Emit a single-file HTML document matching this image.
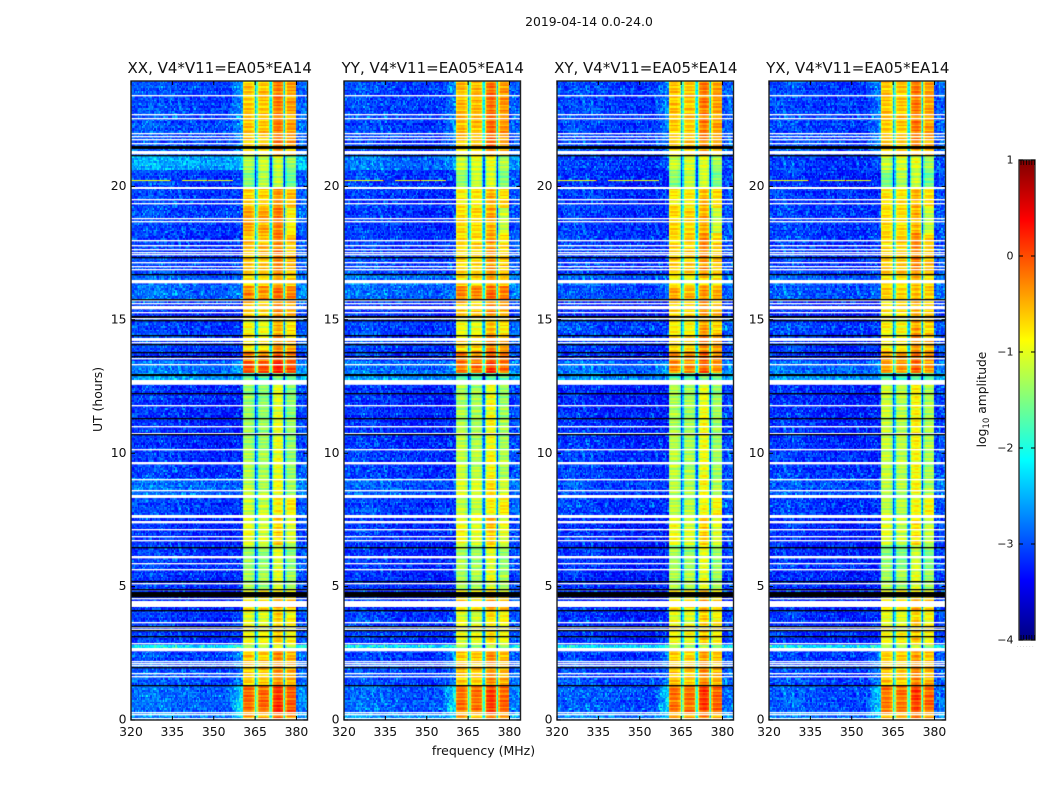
<!DOCTYPE html>
<html lang="en">
<head>
<meta charset="utf-8">
<title>2019-04-14 0.0-24.0</title>
<style>
html,body{margin:0;padding:0;background:#fff;width:1050px;height:800px;overflow:hidden}
#stage{position:relative;width:1050px;height:800px}
canvas{position:absolute;display:block}
svg{position:absolute;left:0;top:0}
text{font-family:"DejaVu Sans","Liberation Sans",sans-serif;fill:#111}
</style>
</head>
<body>
<div id="stage">
<svg id="axes" width="1050" height="800"></svg>
</div>
<script>
/* ---------- chart data ---------- */
const panelNames = ["XX", "YY", "XY", "YX"];
const panelSuffix = ", V4*V11=EA05*EA14";
const xTicks = [320, 335, 350, 365, 380];
const yTicks = [0, 5, 10, 15, 20];
const colorTicks = [1, 0, -1, -2, -3, -4];
const colorTickLabels = ["1", "0", "\u22121", "\u22122", "\u22123", "\u22124"];
const figureTitle = "2019-04-14 0.0-24.0";
const xAxisTitle = "frequency (MHz)";
const yAxisTitle = "UT (hours)";

/* time segments: upper edge in hours */
const segTop = [24,21.55,21.2,20.65,20.0,19.2,18.3,17.46,16.74,16.3,15.77,15.17,14.45,13.82,13.45,13.0,12.77,11.3,10.15,9.1,8.4,7.65,6.55,5.63,4.9,4.6,4.13,3.67,2.84,2.63,2.07,1.3,0.3];
/* log10 amplitude inside the 360-380 MHz band per polarisation */
const bandXX = [-0.55,-0.75,-1.25,-1.3,-0.65,-0.5,-0.55,-0.6,-0.75,-0.35,-0.6,-0.9,-0.75,-0.3,-0.05,-1.7,-1.37,-1.32,-1.32,-1.27,-1.12,-1.02,-1.37,-1.32,-0.9,-0.75,-1.0,-0.9,-1.3,-0.6,-0.6,-0.15,-0.45];
const bandYY = [-0.5,-0.7,-1.15,-1.2,-0.8,-0.75,-0.7,-0.7,-0.7,-0.3,-0.6,-0.95,-0.65,-0.3,-0.2,-1.7,-1.27,-1.22,-1.22,-1.07,-1.12,-0.97,-1.32,-1.27,-0.9,-0.7,-1.05,-1.0,-1.4,-0.6,-0.6,-0.2,-0.5];
const bandXY = [-0.55,-0.7,-1.2,-1.25,-0.8,-0.75,-0.65,-0.65,-0.85,-0.5,-0.65,-0.85,-0.7,-0.35,-0.35,-1.7,-1.27,-1.27,-1.27,-1.22,-1.17,-1.02,-1.32,-1.27,-0.9,-0.8,-1.0,-0.9,-1.4,-0.65,-0.6,-0.2,-0.5];
const bandYX = [-0.55,-0.7,-1.2,-1.3,-0.75,-0.8,-0.65,-0.6,-0.8,-0.7,-0.75,-0.85,-0.75,-0.4,-0.4,-1.8,-1.17,-1.17,-1.22,-1.22,-1.17,-1.12,-1.42,-1.32,-0.95,-0.8,-1.0,-0.9,-1.4,-0.65,-0.6,-0.2,-0.5];
/* log10 amplitude outside the band */
const bgXX = [-3.1,-3.0,-2.6,-3.15,-3.15,-3.15,-3.2,-3.15,-2.95,-2.95,-3.25,-3.15,-3.15,-3.25,-2.9,-2.7,-3.25,-3.25,-3.2,-2.95,-3.15,-3.25,-3.2,-3.25,-3.3,-3.25,-3.2,-3.2,-2.3,-3.15,-3.05,-2.95,-2.8];
const bgYY = [-3.15,-3.1,-2.9,-3.2,-3.2,-3.2,-3.2,-3.15,-2.9,-2.95,-3.25,-3.15,-3.15,-3.25,-2.95,-2.7,-3.25,-3.25,-3.2,-3.0,-3.15,-3.25,-3.25,-3.25,-3.3,-3.25,-3.2,-3.2,-2.35,-3.15,-3.1,-3.0,-2.8];
const bgXY = [-3.15,-3.1,-3.2,-3.25,-3.2,-3.2,-3.2,-3.2,-3.0,-3.1,-3.3,-3.15,-3.2,-3.25,-2.95,-2.75,-3.3,-3.25,-3.2,-3.1,-3.2,-3.3,-3.25,-3.3,-3.3,-3.3,-3.25,-3.25,-2.35,-3.2,-3.15,-3.05,-2.85];
const bgYX = [-3.15,-3.1,-3.2,-3.25,-3.2,-3.2,-3.2,-3.2,-3.0,-3.05,-3.3,-3.15,-3.2,-3.25,-2.95,-2.75,-3.3,-3.25,-3.2,-3.05,-3.2,-3.3,-3.25,-3.3,-3.3,-3.3,-3.25,-3.25,-2.35,-3.2,-3.15,-3.05,-2.85];
/* rise just below the band edge, per segment */
const shoulder = [.35,.2,.2,0,.05,.05,.05,.05,.1,.15,0,0,0,0,.3,0,0,0,0,0,0,0,0,.05,0,.1,.1,.1,.3,.4,.25,.6,.4];
/* offsets of the four sub-bands, per segment */
const chanOffset = [
[-.1,-.1,.2,.1],[-.05,-.05,.15,.1],[0,.1,.05,-.15],[-.25,0,0,-.3],[-.05,-.05,.15,.05],[0,0,.15,-.4],[-.1,-.05,.2,-.05],[-.05,-.05,.2,.05],
[-.05,-.05,.1,.05],[0,-.05,.05,.05],[-.05,-.05,.15,.1],[-.05,-.1,.3,.15],[-.1,-.1,.25,.2],[-.05,-.05,.1,.05],[-.05,-.05,.15,0],[0,0,.05,0],
[-.05,-.1,.2,-.1],[-.05,-.1,.2,-.1],[0,-.05,.2,-.1],[0,-.05,.2,-.1],[-.1,-.1,.15,.3],[0,-.1,.25,-.05],[-.05,-.1,.2,-.1],[-.05,-.05,.15,-.05],
[-.05,-.05,.2,.05],[-.05,-.05,.2,.1],[-.05,-.1,.2,.1],[-.05,-.05,.15,.05],[0,0,.1,0],[-.05,-.05,.15,.05],[-.05,-.05,.15,.05],[-.05,-.05,.15,.05],[-.05,-.05,.15,.05]];
/* spectral shape of the band in 0.5 MHz bins from 360.5 MHz */
const bandProfile = [-.15,0,.05,.05,.05,.05,0,-.1,-.5,-1.9,-1.1,-.2,0,.05,.05,.05,.05,0,-.1,-1.1,-1.9,-.8,-.1,.05,.1,.15,.15,.1,0,-1.2,-2.0,-.4,0,0,.02,.02,.02,0,-.05];
/* spectral shape of the background in 4 MHz bins from 320 MHz */
const bgProfile = [.1,.15,.12,.08,.05,.03,.02,0,0,0,0,0,0,0,.02,.22];
/* hand-estimated texture offsets standing in for unreadable per-pixel noise */
const rowStreak = [.12,-.18,.25,-.05,.2,-.22,.05,.28,-.12,.02,-.25,.18,.08,-.15,.26,-.08,.14,-.2,.22,-.02,.1,-.28,.16,.04,-.1,.24,-.16,.06,.18,-.24,.0];
const speckle = [.1,-.22,.35,-.08,.18,-.3,.05,.6,-.15,.22,-.05,-.35,.12,.42,-.18,.02,.28,-.25,-.1,.15,.75,-.28,.08,-.12,.32,-.02,-.38,.2,.04,-.2,.5,-.06,.14,-.32,.26,-.14,.0,.38,-.24,.09,-.42,.17,.55,-.1,.24,-.27,.03,.3,-.16,.07,-.34,.2,-.04];
/* flagged rows drawn white: centre hour, thickness hour */
const whiteRowHours = [23.46,22.75,22.57,22.04,21.91,21.78,21.66,21.32,19.99,19.53,19.38,18.84,18.73,18.02,17.81,17.68,17.57,17.46,17.16,17.01,16.90,16.48,15.75,15.65,15.49,15.31,15.08,14.28,14.19,13.57,13.36,12.68,11.82,11.03,10.77,10.15,9.63,9.03,8.61,8.40,7.65,7.44,7.16,6.90,6.72,6.13,5.87,5.63,5.12,4.91,4.54,4.35,3.67,3.47,3.38,2.87,2.66,2.19,2.10,2.03,1.75,1.63,0.27,0.19,0.06];
const whiteRowWidths = [.05,.05,.05,.05,.05,.05,.05,.125,.075,.05,.05,.05,.05,.05,.05,.05,.05,.05,.05,.05,.05,.125,.05,.05,.125,.05,.05,.11,.05,.05,.05,.18,.05,.05,.05,.05,.09,.05,.05,.11,.11,.09,.05,.05,.05,.09,.05,.05,.05,.05,.05,.225,.05,.05,.05,.05,.125,.05,.05,.05,.05,.05,.05,.05,.05];
/* rows of zero amplitude drawn black */
const blackRowHours = [21.52,21.21,17.38,16.74,15.80,15.15,15.0,14.43,14.11,13.81,13.66,12.96,12.26,11.33,10.70,6.49,5.21,4.88,4.74,4.63,4.12,3.50,3.35,3.12,1.95,1.29];
const blackRowWidths = [.11,.05,.05,.05,.05,.07,.05,.05,.05,.05,.05,.08,.05,.05,.05,.05,.05,.05,.16,.05,.05,.05,.05,.05,.05,.05];
/* interrupted interference row seen near 20.3 h */
const rfiFrom = [320,334,334.5,338.5,347.5,348];
const rfiTo = [334,334.5,338.5,347.5,348,357];
const rfiLevel = [-0.95,0.45,-3.2,-0.95,0.3,-1.0];
const rfiHour = 20.28;

const bandLevels = [bandXX, bandYY, bandXY, bandYX];
const bgLevels = [bgXX, bgYY, bgXY, bgYX];

/* ---------- layout ---------- */
const panelLeft = [131, 344, 557, 769];
const panelWidth = 176.5;
const panelTop = 81;
const panelBottom = 720;
const xMin = 320, xMax = 384, yMin = 0, yMax = 23.95;
const hourCalibration = 23.95 / 24;
const vMin = -4, vMax = 1;
const cbar = {x: 1019, y: 160, w: 16, h: 480};
const SVGNS = "http://www.w3.org/2000/svg";
const root = document.getElementById("axes");
const stage = document.getElementById("stage");

function xScale(f) { return (f - xMin) / (xMax - xMin) * panelWidth; }
function yScale(t) { return panelBottom - (t - yMin) / (yMax - yMin) * (panelBottom - panelTop); }
function vScale(v) { return cbar.y + (vMax - v) / (vMax - vMin) * cbar.h; }
function clamp01(a) { return Math.max(0, Math.min(1, a)); }
function jet(v) {
  const n = clamp01((v - vMin) / (vMax - vMin));
  const r = clamp01(1.5 - Math.abs(4 * n - 3));
  const g = clamp01(1.5 - Math.abs(4 * n - 2));
  const b = clamp01(1.5 - Math.abs(4 * n - 1));
  return "rgb(" + Math.round(r * 255) + "," + Math.round(g * 255) + "," + Math.round(b * 255) + ")";
}
function svgEl(tag, attrs, txt) {
  const e = document.createElementNS(SVGNS, tag);
  for (const k in attrs) e.setAttribute(k, attrs[k]);
  if (txt !== undefined) e.textContent = txt;
  root.appendChild(e);
  return e;
}
function segmentIndex(t) {
  let k = 0;
  for (let s = 0; s < segTop.length; s++) { if (t < segTop[s] * hourCalibration) k = s; }
  return k;
}
function channelOf(f) { return f < 365.25 ? 0 : f < 370.25 ? 1 : f < 375.25 ? 2 : 3; }
function speckleAt(a, b) {
  return speckle[(a * a * 7 + b * b * 11 + a * b * 13 + a * 3 + b * 5) % speckle.length];
}

function cellValue(p, i, j) {
  const f = xMin + i * 0.5;
  const t = yMin + j * 0.0625;
  const k = segmentIndex(t + 0.03);
  const noise = speckleAt(i + p * 61, j + p * 37);
  if (f >= 360.5 && f < 380) {
    const idx = Math.round((f - 360.5) * 2);
    const c = channelOf(f);
    const streak = rowStreak[(j + p * 5 + c * 3) % rowStreak.length];
    return bandLevels[p][k] + chanOffset[k][c] + bandProfile[idx] + streak * 0.85 + noise * 0.08;
  }
  const rowTone = rowStreak[(j + p * 5) % rowStreak.length];
  let v = bgLevels[p][k] + bgProfile[Math.floor((f - xMin) / 4)] + noise * 0.85 + rowTone * 0.3;
  if (f >= 355 && f < 360.5) v += shoulder[k] * (f - 355) / 5.5 * 1.4;
  if (f >= 380 && f < 381) v -= 0.12;
  return v;
}

function drawPanel(p) {
  const cv = document.createElement("canvas");
  cv.width = Math.ceil(panelWidth);
  cv.height = panelBottom - panelTop;
  cv.style.left = panelLeft[p] + "px";
  cv.style.top = panelTop + "px";
  
  
  stage.insertBefore(cv, root);
  const c = cv.getContext("2d");
  const nCols = (xMax - xMin) * 2;
  const nRows = Math.ceil((yMax - yMin) * 16);
  for (let i = 0; i < nCols; i++) {
    const x0 = Math.round(xScale(xMin + i * 0.5));
    const x1 = Math.round(xScale(xMin + (i + 1) * 0.5));
    for (let j = 0; j < nRows; j++) {
      const y0 = Math.round(yScale(yMin + (j + 1) * 0.0625)) - panelTop;
      const y1 = Math.round(yScale(yMin + j * 0.0625)) - panelTop;
      c.fillStyle = jet(cellValue(p, i, j));
      c.fillRect(x0, y0, Math.max(1, x1 - x0), Math.max(1, y1 - y0));
    }
  }
  function band(hour, width, color, f0, f1, minH) {
    const h = Math.max(minH, width * 26.6);
    const a = Math.round(yScale(hour * hourCalibration) - h / 2) - panelTop;
    c.fillStyle = color;
    c.fillRect(Math.round(xScale(f0)), a, Math.round(xScale(f1)) - Math.round(xScale(f0)), h);
  }
  rfiFrom.forEach(function (f, n) { band(rfiHour, 0.04, jet(rfiLevel[n]), f, rfiTo[n], 1); });
  whiteRowHours.forEach(function (h, n) { band(h, whiteRowWidths[n], "#fff", xMin, xMax, 1.35); });
  blackRowHours.forEach(function (h, n) { band(h, blackRowWidths[n], "#000", xMin, xMax, 1.2); });
}

function drawAxes(p) {
  const L = panelLeft[p], lo = panelNames[p].toLowerCase();
  const R = L + panelWidth;
  const frame = svgEl("rect", {x: L, y: panelTop, width: panelWidth, height: panelBottom - panelTop, fill: "none", stroke: "#222", "stroke-width": 1.4});
  
  
  const title = svgEl("text", {x: L + panelWidth / 2 + 0.5, y: 73, "text-anchor": "middle", "font-size": 15}, panelNames[p] + panelSuffix);
  
  
  xTicks.forEach(function (f) {
    const x = L + xScale(f);
    const tb = svgEl("path", {d: "M" + x + " " + panelBottom + "v-4M" + x + " " + panelTop + "v4", stroke: "#000", "stroke-width": 1, fill: "none"});
    
    
    const lab = svgEl("text", {x: x, y: 736, "text-anchor": "middle", "font-size": 12.4}, String(f));
    
    
  });
  yTicks.forEach(function (t) {
    const y = yScale(t);
    const tk = svgEl("path", {d: "M" + L + " " + y + "h4M" + R + " " + y + "h-4", stroke: "#000", "stroke-width": 1, fill: "none"});
    
    
    const lab = svgEl("text", {x: L - 4.5, y: y + 3.6, "text-anchor": "end", "font-size": 12.4}, String(t));
    
    
  });
}

function drawColorbar() {
  const defs = svgEl("defs", {});
  const grad = document.createElementNS(SVGNS, "linearGradient");
  grad.setAttribute("id", "jetGrad");
  grad.setAttribute("x1", "0"); grad.setAttribute("y1", "1");
  grad.setAttribute("x2", "0"); grad.setAttribute("y2", "0");
  for (let s = 0; s <= 40; s++) {
    const stop = document.createElementNS(SVGNS, "stop");
    stop.setAttribute("offset", s / 40);
    stop.setAttribute("stop-color", jet(vMin + (vMax - vMin) * s / 40));
    grad.appendChild(stop);
  }
  defs.appendChild(grad);
  const bar = svgEl("rect", {x: cbar.x, y: cbar.y, width: cbar.w, height: cbar.h, fill: "url(#jetGrad)", stroke: "#333", "stroke-width": 1.4});
  
  
  colorTicks.forEach(function (v, n) {
    const y = vScale(v);
    const tk = svgEl("path", {d: "M" + cbar.x + " " + y + "h4M" + (cbar.x + cbar.w) + " " + y + "h-4", stroke: "#000", "stroke-width": 1, fill: "none"});
    
    
    const lab = svgEl("text", {x: 1013.5, y: y + 3.5, "text-anchor": "end", "font-size": 11}, colorTickLabels[n]);
    
    
  });
  for (let n = 0; n < 6; n++) {
    const hx = cbar.x + 2 + n * 2.7;
    const hatch = svgEl("path", {d: "M" + hx + " " + cbar.y + "v5M" + hx + " " + (cbar.y + cbar.h) + "v-5", stroke: "#000", "stroke-width": 0.8, fill: "none"});
    
    
  }
  const dots = svgEl("text", {x: 1017, y: 647, "font-size": 4.5, "letter-spacing": "1.6", style: "fill:#777"}, "......");
  
  
  const cl = svgEl("text", {x: 986, y: 399.5, "text-anchor": "middle", "font-size": 12.3, transform: "rotate(-90 986 399.5)"});
  
  
  cl.innerHTML = 'log<tspan font-size="8.6" dy="3">10</tspan><tspan dy="-3"> amplitude</tspan>';
}

for (let p = 0; p < panelNames.length; p++) { drawPanel(p); drawAxes(p); }
drawColorbar();

const suptitle = svgEl("text", {x: 589, y: 26, "text-anchor": "middle", "font-size": 12.4}, figureTitle);


const xTitle = svgEl("text", {x: 483.5, y: 755, "text-anchor": "middle", "font-size": 12.5}, xAxisTitle);


const yTitle = svgEl("text", {x: 102, y: 399.5, "text-anchor": "middle", "font-size": 12.4, transform: "rotate(-90 102 399.5)"}, yAxisTitle);


</script>
</body>
</html>
